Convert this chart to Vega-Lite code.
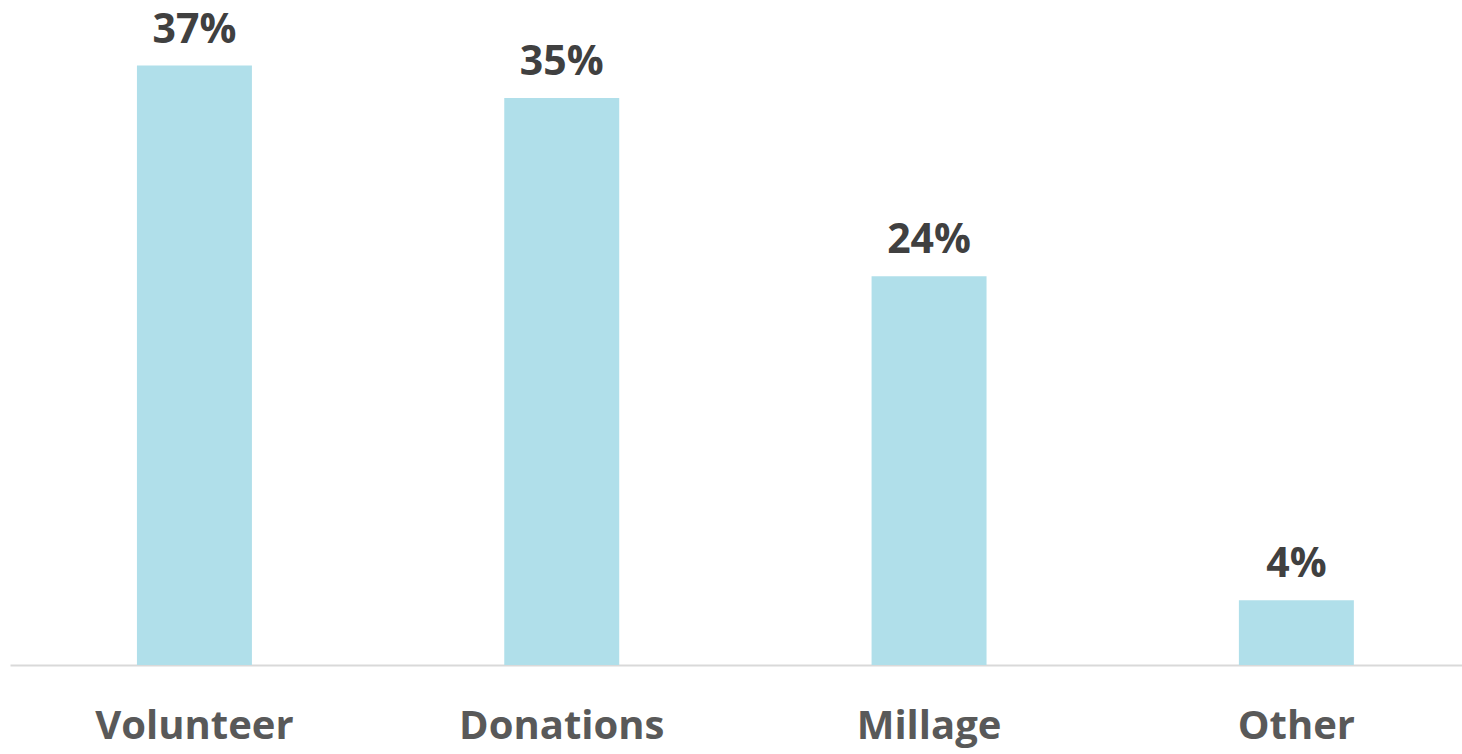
{
  "$schema": "https://vega.github.io/schema/vega-lite/v6.json",
  "width": 1452,
  "height": 665,
  "autosize": {"type": "none"},
  "padding": {"left": 10, "top": 0, "right": 0, "bottom": 89},
  "background": "white",
  "config": {"view": {"stroke": null}},
  "data": {"values": [
    {"category": "Volunteer", "share": 0.37},
    {"category": "Donations", "share": 0.35},
    {"category": "Millage", "share": 0.24},
    {"category": "Other", "share": 0.04}
  ]},
  "encoding": {
    "x": {
      "field": "category", "type": "nominal", "sort": null,
      "scale": {"paddingInner": 0.687, "paddingOuter": 0.32, "align": 0.54},
      "axis": {
        "title": null, "labelAngle": 0, "ticks": false, "labelLimit": 0,
        "domainColor": "#d9d9d9", "domainWidth": 2,
        "labelFont": "Open Sans", "labelFontWeight": "bold", "labelFontSize": 40,
        "labelColor": "#595959", "labelPadding": 41
      }
    },
    "y": {
      "field": "share", "type": "quantitative",
      "scale": {"domain": [0, 0.4105], "nice": false},
      "axis": null
    }
  },
  "layer": [
    {"mark": {"type": "bar", "color": "#b0dfea"}},
    {
      "mark": {"type": "text", "baseline": "alphabetic", "dy": -23, "font": "Open Sans", "fontWeight": "bold", "fontSize": 41, "color": "#404040"},
      "encoding": {"text": {"field": "share", "type": "quantitative", "format": ".0%"}}
    }
  ]
}
